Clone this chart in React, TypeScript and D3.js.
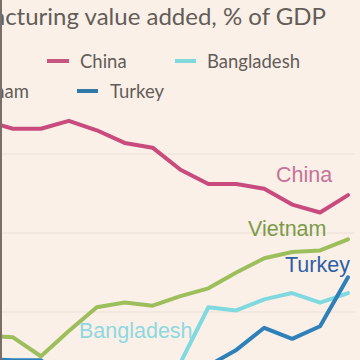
import React from "react";
import * as d3 from "d3";

const years = [2008, 2009, 2010, 2011, 2012, 2013, 2014, 2015, 2016, 2017, 2018, 2019, 2020, 2021];
const china = [32.1, 31.6, 31.6, 32.1, 31.5, 30.7, 30.4, 29.0, 28.1, 28.1, 27.8, 26.8, 26.3, 27.4];
const vietnam = [18.5, 18.4, 17.2, 18.8, 20.3, 20.6, 20.4, 21.0, 21.5, 22.5, 23.4, 23.8, 23.9, 24.6];
const turkey = [17.0, 16.95, 16.95, 15.5, 15.4, 15.6, 15.8, 16.0, 16.6, 17.6, 19.0, 18.3, 19.1, 22.2];
const bangladesh = [16.0, 16.1, 16.0, 16.3, 16.5, 16.4, 16.5, 16.8, 20.3, 20.1, 20.8, 21.2, 20.6, 21.2];
const gridValues = [20, 25, 30];
const title = "Manufacturing value added, % of GDP";

const W = 360;
const H = 360;
const BG = "#faf0e8";

export default function App() {
  const x = d3.scaleLinear().domain([2009, 2021]).range([13, 348]);
  const y = d3.scaleLinear().domain([20, 30]).range([312, 154]);
  const line = d3
    .line<number>()
    .x((_, i) => x(years[i]))
    .y((d) => y(d));

  const series = [
    { name: "Bangladesh", values: bangladesh, color: "#80d9df" },
    { name: "Turkey", values: turkey, color: "#2e80b9" },
    { name: "Vietnam", values: vietnam, color: "#9cbf5c" },
    { name: "China", values: china, color: "#c94b7e" },
  ];

  const legendFont = "Lato, 'Open Sans', sans-serif";
  const labelFont = "'Liberation Sans', Arial, sans-serif";

  return (
    <svg
      width={W}
      height={H}
      style={{ position: "absolute", left: 0, top: 0, background: BG }}
    >
      <rect x={0} y={0} width={W} height={H} fill={BG} />
      {gridValues.map((g) => (
        <line key={g} x1={0} x2={355} y1={y(g)} y2={y(g)} stroke="#ebe0d6" strokeWidth={1} />
      ))}
      <text
        x={326}
        y={25}
        textAnchor="end"
        fontFamily={legendFont}
        fontSize={24}
        fill="#635d58"
      >
        {title}
      </text>
      {/* legend */}
      <g fontFamily={legendFont} fontSize={18.5} fill="#635d58">
        <line x1={47} x2={69} y1={61} y2={61} stroke="#c65580" strokeWidth={4} />
        <text x={80} y={68}>China</text>
        <line x1={175} x2={196} y1={61} y2={61} stroke="#80d9dd" strokeWidth={4} />
        <text x={207} y={68}>Bangladesh</text>
        <line x1={-82} x2={-60} y1={91} y2={91} stroke="#9cbf5c" strokeWidth={4} />
        <text x={29} y={98} textAnchor="end">Vietnam</text>
        <line x1={77} x2={98} y1={91} y2={91} stroke="#2f7aa8" strokeWidth={4} />
        <text x={110} y={98}>Turkey</text>
      </g>
      {series.map((s) => (
        <path
          key={s.name}
          d={line(s.values) || ""}
          fill="none"
          stroke={s.color}
          strokeWidth={4}
          strokeLinejoin="round"
          strokeLinecap="round"
        />
      ))}
      <g fontFamily={labelFont} fontSize={21.5}>
        <text x={276} y={182} fill="#c8729a">China</text>
        <text x={248} y={236} fill="#7d9a4a">Vietnam</text>
        <text x={285} y={272} fill="#2d5ea6">Turkey</text>
        <text x={79} y={338} fill="#8ed8e0">Bangladesh</text>
      </g>
      <rect x={0} y={0} width={2} height={H} fill="#7a6e66" />
    </svg>
  );
}
